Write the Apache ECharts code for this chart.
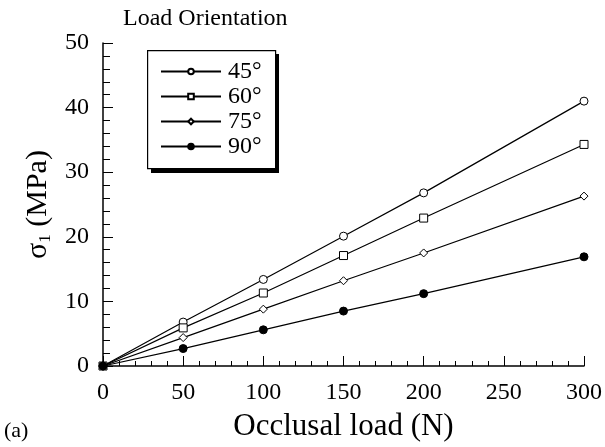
<!DOCTYPE html>
<html>
<head>
<meta charset="utf-8">
<script src="https://cdn.jsdelivr.net/npm/echarts@6/dist/echarts.min.js"></script>
<style>
  html, body { margin: 0; padding: 0; background: #fff; }
  #chart { width: 605px; height: 447px; }
</style>
</head>
<body>
<div id="chart"></div>
<script>
// occlusal load (N)
var loads = [0, 50, 100, 150, 200, 300];
// sigma1 (MPa) per load orientation
var s45 = [0, 6.8, 13.4, 20.1, 26.8, 41.0];
var s60 = [0, 5.9, 11.3, 17.1, 22.9, 34.3];
var s75 = [0, 4.4, 8.8, 13.2, 17.5, 26.3];
var s90 = [0, 2.7, 5.6, 8.5, 11.2, 16.9];
var names = ["45°", "60°", "75°", "90°"];

var font = "Liberation Serif";

function pairs(ys) {
  return loads.map(function (x, i) { return [x, ys[i]]; });
}

function line(name, ys, symbol, size, fill) {
  return {
    name: name,
    type: "line",
    data: pairs(ys),
    symbol: symbol,
    symbolSize: size,
    showAllSymbol: true,
    lineStyle: { color: "#000", width: 1.2 },
    itemStyle: { color: fill, borderColor: "#000", borderWidth: 1 },
    emphasis: { disabled: true },
    animation: false,
  };
}

var chart = echarts.init(document.getElementById("chart"));
chart.setOption({
  backgroundColor: "#fff",
  animation: false,
  grid: { left: 103, right: 19, top: 43, bottom: 81 },
  graphic: [
    // legend frame with drop shadow
    { type: "rect", left: 151, top: 54, shape: { width: 128, height: 119 }, style: { fill: "#000" }, z: 0 },
    { type: "rect", left: 147, top: 50, shape: { width: 128, height: 118 }, style: { fill: "#fff", stroke: "#000", lineWidth: 1.2 }, z: 1 },
    { type: "text", left: 123, top: 7, style: { text: "Load Orientation", font: "24px " + font, fill: "#000" } },
    { type: "text", left: 4, top: 420, style: { text: "(a)", font: "22px " + font, fill: "#000" } },
  ],
  legend: {
    orient: "vertical",
    left: 160,
    top: 59,
    padding: 0,
    itemWidth: 60,
    itemHeight: 7,
    itemGap: 0,
    z: 5,
    data: names,
    textStyle: { fontFamily: font, fontSize: 24, color: "#000", lineHeight: 25, padding: [0, 0, 0, 2] },
  },
  xAxis: {
    type: "value",
    min: 0,
    max: 300,
    interval: 50,
    axisLine: { show: true, lineStyle: { color: "#000", width: 1.5 } },
    axisTick: { inside: true, length: 10, lineStyle: { color: "#000" } },
    minorTick: { show: true, splitNumber: 5, length: 5, lineStyle: { color: "#000" } },
    splitLine: { show: false },
    axisLabel: { fontFamily: font, fontSize: 24, color: "#000", margin: 15 },
    name: "Occlusal load (N)",
    nameLocation: "middle",
    nameGap: 45,
    nameTextStyle: { fontFamily: font, fontSize: 31, color: "#000" },
  },
  yAxis: {
    type: "value",
    min: 0,
    max: 50,
    interval: 10,
    axisLine: { show: true, lineStyle: { color: "#000", width: 1.5 } },
    axisTick: { inside: true, length: 10, lineStyle: { color: "#000" } },
    minorTick: { show: true, splitNumber: 5, length: 7, lineStyle: { color: "#000" } },
    splitLine: { show: false },
    axisLabel: { fontFamily: font, fontSize: 24, color: "#000", margin: 14 },
    name: "σ{sub|1} (MPa)",
    nameLocation: "middle",
    nameGap: 48,
    nameRotate: 90,
    nameTextStyle: {
      fontFamily: font,
      fontSize: 30,
      color: "#000",
      rich: {
        sub: { fontFamily: font, fontSize: 17, verticalAlign: "bottom", padding: [14, 0, 0, 0] },
      },
    },
  },
  series: [
    line(names[0], s45, "circle", 8, "#fff"),
    line(names[1], s60, "rect", 8, "#fff"),
    line(names[2], s75, "diamond", 8, "#fff"),
    line(names[3], s90, "circle", 8, "#000"),
  ],
});
</script>
</body>
</html>
